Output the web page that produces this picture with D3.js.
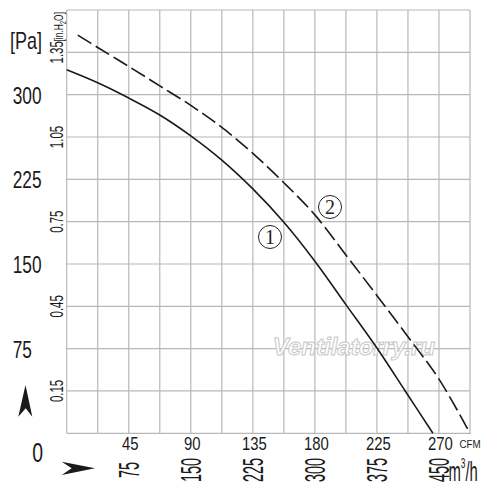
<!DOCTYPE html>
<html>
<head>
<meta charset="utf-8">
<script src="https://cdn.jsdelivr.net/npm/d3@7"></script>
<style>
  html, body { margin: 0; padding: 0; background: #fff; }
  svg { display: block; }
</style>
</head>
<body>
<div id="chart"></div>
<script>
// fan curves (x in CFM, y in Pa)
const curve1Cfm = [0, 22.5, 45, 67.5, 90, 112.5, 135, 157.5, 180, 202.5, 225, 245.5, 265.6];
const curve1Pa = [322, 310.5, 297, 282, 263.5, 242, 216.5, 187, 152.5, 114, 75.5, 37.5, 0];

const curve2Cfm = [8, 22.5, 45, 67.5, 90, 112.5, 135, 157.5, 180, 202.5, 225, 247.5, 270, 292.5];
const curve2Pa = [352.8, 341.8, 325, 307.8, 290.5, 271, 248, 222, 193.5, 158, 122, 85.5, 48, 0];

// tick labels
const cfmTicks = [45, 90, 135, 180, 225, 270];
const m3hTicks = ["75", "150", "225", "300", "375", "450"];
const paTicks = [75, 150, 225, 300];
const inH2OTicks = ["0.15", "0.45", "0.75", "1.05", "1.35"];

const width = 500;
const height = 500;
const plot = { left: 66.7, right: 470, top: 10, bottom: 433.3 };

const svg = d3
  .select("#chart")
  .append("svg")
  .attr("width", width)
  .attr("height", height);

const x = d3.scaleLinear().domain([0, 292.5]).range([plot.left, plot.right]);
const y = d3.scaleLinear().domain([0, 375]).range([plot.bottom, plot.top]);
const yIn = d3.scaleLinear().domain([0, 1.5]).range([plot.bottom, plot.top]);

// grid: 22.5 CFM columns, 37.5 Pa rows
const grid = svg.append("g").attr("stroke", "#b8b8b8").attr("stroke-width", 1.2);
grid
  .selectAll("line.v")
  .data(d3.range(0, 292.5 + 0.1, 22.5))
  .join("line")
  .attr("class", "v")
  .attr("x1", (d) => x(d))
  .attr("x2", (d) => x(d))
  .attr("y1", y(0))
  .attr("y2", y(375));
grid
  .selectAll("line.h")
  .data(d3.range(0, 375 + 0.1, 37.5))
  .join("line")
  .attr("class", "h")
  .attr("x1", x(0))
  .attr("x2", x(292.5))
  .attr("y1", (d) => y(d))
  .attr("y2", (d) => y(d));

// watermark
svg
  .append("text")
  .attr("x", 354)
  .attr("y", 355)
  .attr("text-anchor", "middle")
  .style("font-family", "Liberation Sans, Arial, sans-serif")
  .style("font-size", "24px")
  .style("font-weight", "bold")
  .style("font-style", "italic")
  .style("fill", "#fff")
  .style("stroke", "#c8c8c8")
  .style("stroke-width", 1)
  .text("Ventilatorry.ru");

// curves
const line = d3
  .line()
  .x((d) => x(d[0]))
  .y((d) => y(d[1]))
  .curve(d3.curveCatmullRom.alpha(0.5));

svg
  .append("path")
  .datum(d3.zip(curve1Cfm, curve1Pa))
  .attr("d", line)
  .attr("fill", "none")
  .attr("stroke", "#1a1a1a")
  .attr("stroke-width", 1.6);

svg
  .append("path")
  .datum(d3.zip(curve2Cfm, curve2Pa))
  .attr("d", line)
  .attr("fill", "none")
  .attr("stroke", "#1a1a1a")
  .attr("stroke-width", 1.6)
  .attr("stroke-dasharray", "16,5");

// circled curve numbers
const marks = [
  { n: "1", cx: 270, cy: 237 },
  { n: "2", cx: 330, cy: 207 }
];
const mk = svg.selectAll("g.mark").data(marks).join("g").attr("class", "mark");
mk.append("circle")
  .attr("cx", (d) => d.cx)
  .attr("cy", (d) => d.cy)
  .attr("r", 11.5)
  .attr("fill", "#fff")
  .attr("stroke", "#222")
  .attr("stroke-width", 1);
mk.append("text")
  .attr("x", (d) => d.cx)
  .attr("y", (d) => d.cy + 7)
  .attr("text-anchor", "middle")
  .style("font-family", "Liberation Serif, Times New Roman, serif")
  .style("font-size", "20px")
  .style("fill", "#222")
  .text((d) => d.n);

const font = "Liberation Sans, Arial, sans-serif";

// Pa labels (left)
svg
  .selectAll("text.pa")
  .data(paTicks)
  .join("text")
  .attr("class", "pa")
  .attr("transform", (d) => `translate(12.7, ${y(d) + 9}) scale(0.72, 1)`)
  .style("font-family", font)
  .style("font-size", "24px")
  .style("fill", "#1a1a1a")
  .text((d) => d);

svg
  .append("text")
  .attr("transform", "translate(43, 462) scale(0.72, 1)")
  .attr("text-anchor", "end")
  .style("font-family", font)
  .style("font-size", "27px")
  .style("fill", "#1a1a1a")
  .text("0");

svg
  .append("text")
  .attr("transform", "translate(10, 49) scale(0.75, 1)")
  .style("font-family", font)
  .style("font-size", "24px")
  .style("fill", "#1a1a1a")
  .text("[Pa]");

// in.H2O labels (rotated, next to the grid)
svg
  .selectAll("text.inh")
  .data(inH2OTicks)
  .join("text")
  .attr("class", "inh")
  .attr("transform", (d) => `translate(63.3, ${yIn(+d)}) rotate(-90) scale(0.62, 1)`)
  .attr("text-anchor", "middle")
  .style("font-family", font)
  .style("font-size", "18.5px")
  .style("fill", "#1a1a1a")
  .text((d) => d);

const unitIn = svg
  .append("text")
  .attr("transform", "translate(63.3, 41.5) rotate(-90) scale(0.65, 1)")
  .style("font-family", font)
  .style("font-size", "13px")
  .style("fill", "#1a1a1a");
unitIn.append("tspan").text("[in.H");
unitIn.append("tspan").attr("dy", 3).style("font-size", "9px").text("2");
unitIn.append("tspan").attr("dy", -3).text("O]");

// CFM labels (bottom row)
svg
  .selectAll("text.cfm")
  .data(cfmTicks)
  .join("text")
  .attr("class", "cfm")
  .attr("transform", (d) => `translate(${x(d) + 1.5}, 450) scale(0.85, 1)`)
  .attr("text-anchor", "middle")
  .style("font-family", font)
  .style("font-size", "17.5px")
  .style("fill", "#1a1a1a")
  .text((d) => d);

svg
  .append("text")
  .attr("transform", "translate(459.5, 448.3) scale(0.85, 1)")
  .style("font-family", font)
  .style("font-size", "11.5px")
  .style("fill", "#1a1a1a")
  .text("CFM");

// m3/h labels (rotated, same columns as CFM)
svg
  .selectAll("text.m3h")
  .data(m3hTicks)
  .join("text")
  .attr("class", "m3h")
  .attr("transform", (d, i) => `translate(${x(cfmTicks[i]) + 10}, 470) rotate(-90) scale(0.5, 1)`)
  .attr("text-anchor", "middle")
  .style("font-family", font)
  .style("font-size", "29px")
  .style("fill", "#1a1a1a")
  .text((d) => d);

const unitM = svg
  .append("text")
  .attr("transform", "translate(448.5, 480.7) scale(0.55, 1)")
  .style("font-family", font)
  .style("font-size", "27px")
  .style("fill", "#1a1a1a");
unitM.append("tspan").text("m");
unitM.append("tspan").attr("dy", -13).style("font-size", "15px").text("3");
unitM.append("tspan").attr("dy", 13).text("/h");

// axis arrows
svg
  .append("path")
  .attr("d", "M25.5,385 L32.3,416.7 L25.7,408.3 L18.3,416.7 Z")
  .attr("fill", "#1a1a1a");
svg
  .append("path")
  .attr("d", "M95,468.3 L61.7,461.7 L71.7,468.3 L61.7,475 Z")
  .attr("fill", "#1a1a1a");
</script>
</body>
</html>
